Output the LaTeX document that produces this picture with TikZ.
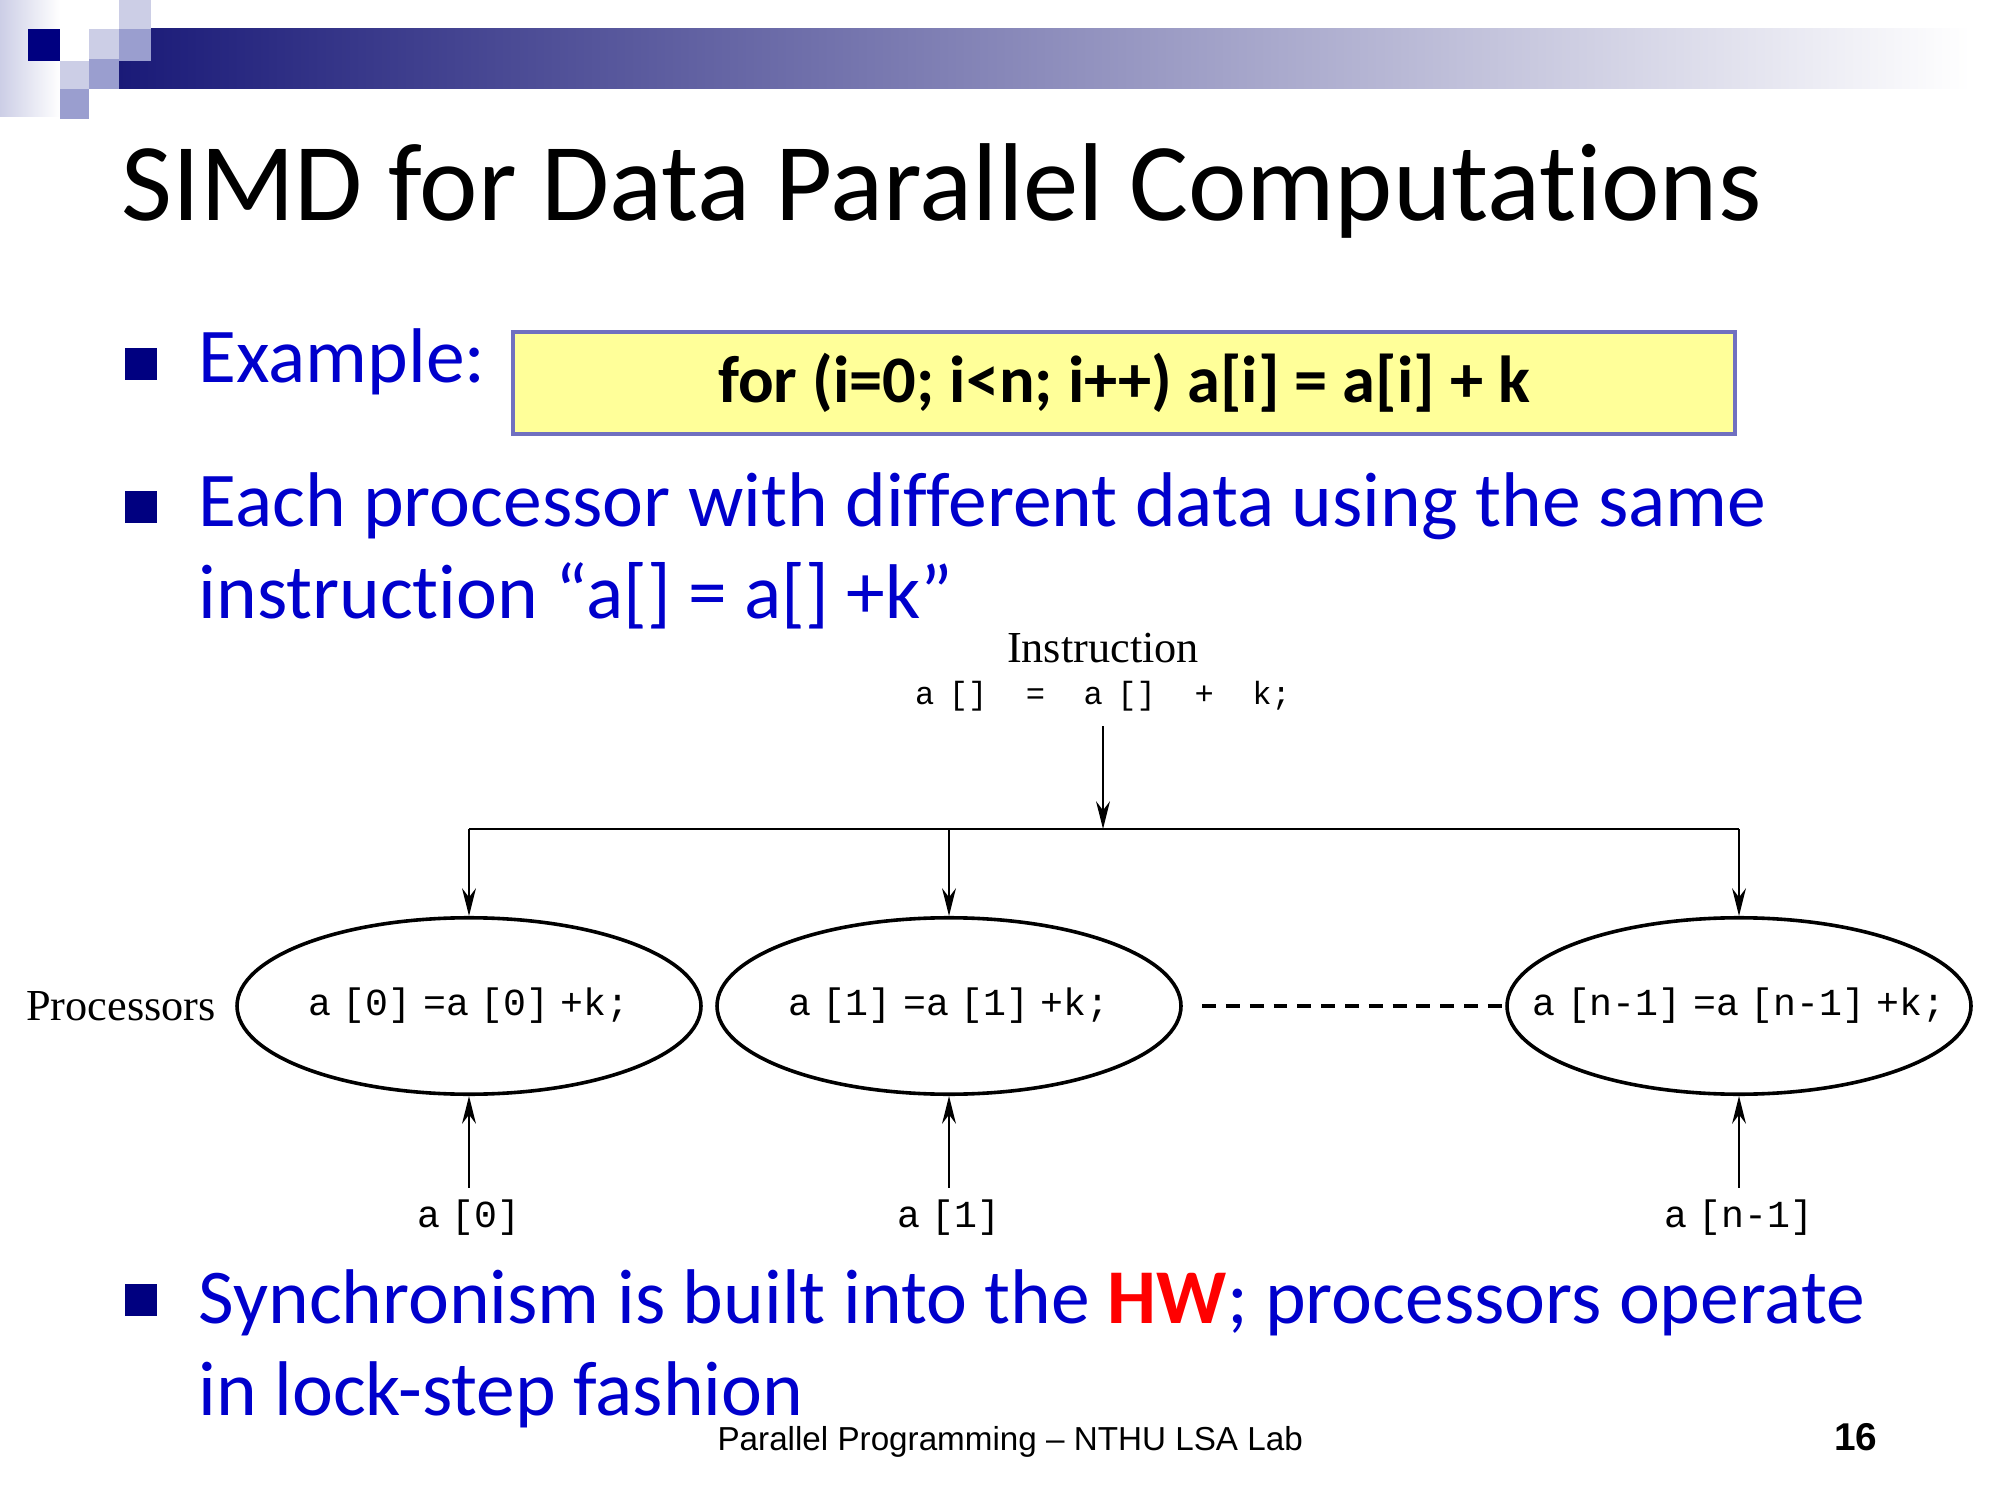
\documentclass[tikz,border=0pt]{standalone}
\usepackage{fontspec}
\setmainfont{Carlito}[RawFeature={-liga;-clig;-calt;-dlig}]
\setmonofont{Liberation Mono}
\newfontfamily\arialfont{Liberation Sans}
\newfontfamily\timesfont{Liberation Serif}
\usetikzlibrary{positioning,shapes.geometric,arrows.meta}

\definecolor{slideblue}{RGB}{0,0,204}
\definecolor{navy}{RGB}{0,0,128}
\definecolor{barnavy}{RGB}{26,26,120}
\definecolor{sqlight}{RGB}{204,206,230}
\definecolor{sqmid}{RGB}{154,158,207}
\definecolor{boxedge}{RGB}{112,112,192}
\definecolor{boxfill}{RGB}{255,255,153}

\newcommand{\tgap}{\hspace{0.3em}}
\newcommand{\nolig}{\kern0pt}
\newcommand{\fitcode}[1]{\makebox[0pt]{#1}}

\begin{document}
\begin{tikzpicture}[x=0.0127cm, y=-0.0127cm,
  every node/.style={inner sep=0pt},
  bodytext/.style={anchor=base west, text=slideblue, font=\fontsize{28}{33}\selectfont},
  bulletsq/.style={fill=navy},
  proc/.style={ellipse, draw, line width=1.3pt, minimum width=5.89cm, minimum height=2.24cm,
    font=\ttfamily\fontsize{13.8}{16}\selectfont},
  datum/.style={anchor=base, font=\ttfamily\fontsize{13.8}{16}\selectfont},
  serifl/.style={font=\timesfont\fontsize{16}{18}\selectfont},
  feed/.style={line width=0.8pt, -{Stealth[length=10pt,width=5pt]}}]

\path[use as bounding box, fill=white] (0,0) rectangle (2000,1500);

% header bar and squares
\shade[left color=sqlight, right color=white] (0,0) rectangle (60,117);
\shade[left color=barnavy, right color=white] (119,29) rectangle (1970,89);
\fill[navy] (28,29) rectangle (60,61);
\fill[sqlight] (89,29) rectangle (119,59);
\fill[sqlight] (119,0) rectangle (151,29);
\fill[sqlight] (60,61) rectangle (89,89);
\fill[sqmid] (119,29) rectangle (151,61);
\fill[sqmid] (89,59) rectangle (119,89);
\fill[sqmid] (60,89) rectangle (89,119);

% title
\node[anchor=base west, font=\fontsize{40}{48}\selectfont] (title) at (121,221)
  {SIMD for Data Parallel Computat\nolig ions};

% bullets
\fill[bulletsq] (125,348) rectangle (157,380);
\fill[bulletsq] (125,491) rectangle (157,523);
\fill[bulletsq] (125,1284) rectangle (157,1316);
\node[bodytext] (ex) at (198,383) {Example:};
\node[draw=boxedge, line width=1.4pt, fill=boxfill, minimum width=15.51cm, minimum height=1.295cm,
  font=\bfseries\fontsize{24}{28}\selectfont] (loop) at (1124,383) {for (i=0; i<n; i++) a[i] = a[i] + k};
\node[bodytext] (each) at (198,527) {Each processor with different data using the same};
\node[bodytext] (instrtext) at (198,619) {instruct\nolig ion “a[] = a[] +k”};
\node[bodytext] (sync) at (198,1323)
  {Synchronism is built into the \textcolor{red}{\textbf{HW}}; processors operate};
\node[bodytext] (lock) at (198,1415) {in lock-step fashion};

% diagram
\node[serifl, anchor=base] (instr) at (1103,663) {Instruction};
\node[anchor=base, font=\ttfamily\fontsize{11.6}{14}\selectfont] (code) at (1103,705)
  {a\hspace{0.45em}[]\ \ =\ \ a\hspace{0.45em}[]\ \ +\ \ k;};
\coordinate (bus) at (1103,829);
\coordinate (busL) at (469,829);
\coordinate (busR) at (1739,829);

\node[proc] (p0) at (469,1006) {\fitcode{a\tgap[0]\tgap=a\tgap[0]\tgap+k;}};
\node[proc] (p1) at (949,1006) {\fitcode{a\tgap[1]\tgap=a\tgap[1]\tgap+k;}};
\node[proc] (pn) at (1739,1006) {\fitcode{a\tgap[n-1]\tgap=a\tgap[n-1]\tgap+k;}};
\node[serifl, left=0.24cm of p0] (plabel) {Processors};

\node[datum] (d0) at (469,1227) {a\tgap[0]};
\node[datum] (d1) at (949,1227) {a\tgap[1]};
\node[datum] (dn) at (1739,1227) {a\tgap[n-1]};

\draw[feed, shorten <=5pt] (code) -- (bus);
\draw[line width=0.8pt] (busL) -- (busR);
\draw[feed] (busL) -- (p0);
\draw[feed] (p1 |- bus) -- (p1);
\draw[feed] (busR) -- (pn);
\draw[line width=1.1pt, dash pattern=on 5pt off 3.6pt, shorten <=7pt] (p1) -- (pn);
\draw[feed, shorten <=4pt] (d0) -- (p0);
\draw[feed, shorten <=4pt] (d1) -- (p1);
\draw[feed, shorten <=4pt] (dn) -- (pn);

% footer
\node[anchor=base west, font=\arialfont\fontsize{12}{14}\selectfont] (foot) at (717,1450)
  {Parallel Programming – NTHU LSA Lab};
\node[anchor=base east, font=\arialfont\bfseries\fontsize{14}{16}\selectfont] (page) at (1878,1450) {16};
\end{tikzpicture}
\end{document}
